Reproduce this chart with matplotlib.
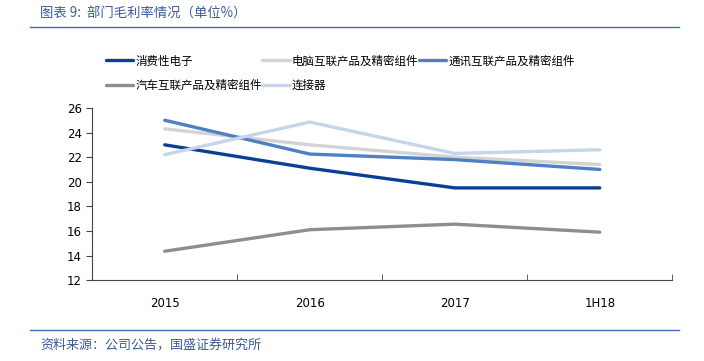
import numpy as np
import matplotlib.pyplot as plt
from matplotlib.lines import Line2D

plt.rcParams['font.family'] = ['Noto Sans CJK SC', 'DejaVu Sans']

# DATOS

periodos = ['2015', '2016', '2017', '1H18']
consumo = [23.0, 21.1, 19.5, 19.5]
pc = [24.3, 23.0, 22.0, 21.4]
comunic = [25.0, 22.25, 21.8, 21.0]
auto = [14.35, 16.1, 16.55, 15.9]
conector = [22.2, 24.85, 22.3, 22.6]

nombres = ['消费性电子', '电脑互联产品及精密组件', '通讯互联产品及精密组件',
           '汽车互联产品及精密组件', '连接器']
colores = ['#0b3f96', '#d3d3d3', '#4f7fc4', '#8e8e8e', '#c5d5ec']

# FIGURA

fig = plt.figure(figsize=(7.04, 3.61), dpi=100)
ax = fig.add_axes([0.131, 0.224, 0.824, 0.477])

x = np.arange(len(periodos))
series = [consumo, pc, comunic, auto, conector]
lineas = []
for s, c, n in zip(series, colores, nombres):
    l, = ax.plot(x, s, color=c, lw=2.4, label=n, solid_capstyle='round')
    lineas.append(l)

ax.set_xlim(-0.5, 3.5)
ax.set_ylim(12, 26)
ax.set_yticks(np.arange(12, 27, 2))
ax.set_xticks(x)
ax.set_xticklabels(periodos, fontsize=8.5, family='DejaVu Sans')
ax.set_xticks(np.arange(0.5, 4, 1), minor=True)
ax.tick_params(axis='x', which='major', length=0, pad=12)
ax.tick_params(axis='x', which='minor', length=4, direction='in', color='#444444')
ax.tick_params(axis='y', length=4, direction='out', color='#444444', labelsize=8.5)
for lab in ax.get_yticklabels():
    lab.set_family('DejaVu Sans')
for lado in ['top', 'right']:
    ax.spines[lado].set_visible(False)
for lado in ['left', 'bottom']:
    ax.spines[lado].set_color('#444444')

# LEYENDA (orden por columnas)

orden = [0, 3, 1, 4, 2]
fig.legend([lineas[i] for i in orden], [nombres[i] for i in orden],
           ncol=3, loc='upper left', bbox_to_anchor=(0.142, 0.865),
           frameon=False, fontsize=8.3, handlelength=2.4, handletextpad=0.15,
           columnspacing=0.05, labelspacing=1.0, borderpad=0)

# TITULO Y FUENTE

fig.text(0.057, 0.962, '图表 9:  部门毛利率情况（单位%）', fontsize=9.6,
         color='#3b5b9a', style='italic', va='center')
fig.add_artist(Line2D([0.043, 0.965], [0.925, 0.925], color='#3b6bbd', lw=1))
fig.add_artist(Line2D([0.043, 0.965], [0.086, 0.086], color='#3b6bbd', lw=1))
fig.text(0.057, 0.044, '资料来源：公司公告，国盛证券研究所', fontsize=9.4,
         color='#3b5b9a', style='italic', va='center')

plt.savefig('out.png', dpi=100)
